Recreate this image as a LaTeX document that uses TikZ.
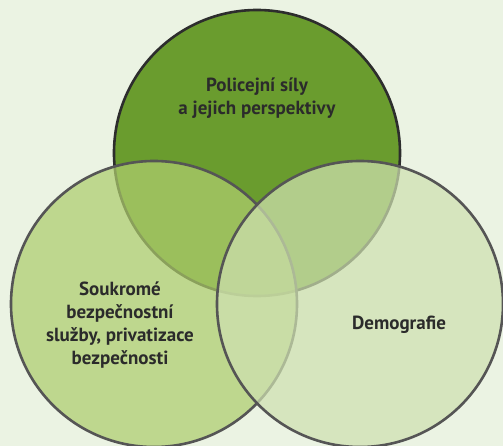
\documentclass[tikz,border=0pt]{standalone}
\usepackage{fontspec}
\setmainfont{PT Sans}
\usepackage{tikz}

\definecolor{bgcol}{RGB}{235,243,227}
\definecolor{topfill}{RGB}{106,156,46}
\definecolor{leftfill}{RGB}{174,205,110}
\definecolor{rightfill}{RGB}{206,224,176}
\definecolor{ringdark}{RGB}{45,45,45}
\definecolor{ringgray}{RGB}{85,85,85}
\definecolor{txtcol}{RGB}{43,43,43}

\tikzset{
  setcircle/.style={circle, minimum size=286pt, inner sep=0pt, line width=2.6pt},
  settext/.style={align=center, font=\bfseries\fontsize{19}{22.8}\selectfont, text=txtcol}
}

\begin{document}
\begin{tikzpicture}[x=1pt, y=-1pt]
			\fill[bgcol] (0, 0) rectangle (503, 446);
			\useasboundingbox (0, 0) rectangle (503, 446);

			\node[setcircle, draw=ringdark, fill=topfill] (police) at (257, 153){};
			\node[setcircle, draw=ringgray, fill=leftfill, fill opacity=0.72] (private) at (154, 304){};
			\node[setcircle, draw=ringgray, fill=rightfill, fill opacity=0.72] (demo) at (360, 304){};

			\node[settext] (policetext) at (257, 98){Policejní síly\\a jejich perspektivy};
			\node[settext] (privatetext) at (120, 325){Soukromé\\bezpečnostní\\služby, privatizace\\bezpečnosti};
			\node[settext] (demotext) at (399, 325){Demografie};
		\end{tikzpicture}
\end{document}
